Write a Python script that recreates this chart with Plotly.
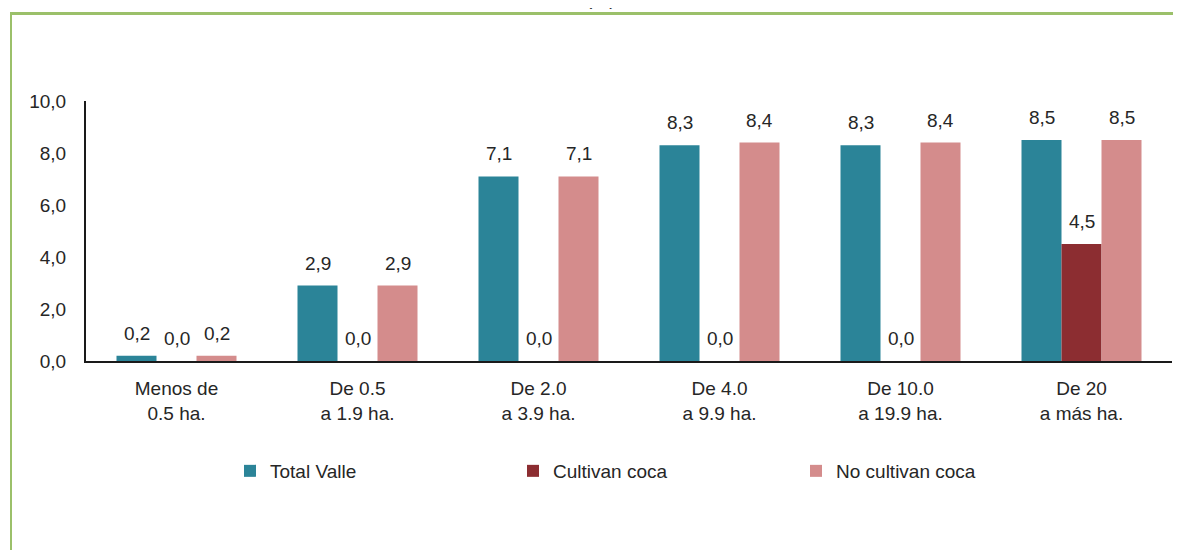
import plotly.graph_objects as go

categories = ["Menos de<br>0.5 ha.", "De 0.5<br>a 1.9 ha.", "De 2.0<br>a 3.9 ha.",
              "De 4.0<br>a 9.9 ha.", "De 10.0<br>a 19.9 ha.", "De 20<br>a más ha."]
total_valle = [0.2, 2.9, 7.1, 8.3, 8.3, 8.5]
cultivan_coca = [0.0, 0.0, 0.0, 0.0, 0.0, 4.5]
no_cultivan_coca = [0.2, 2.9, 7.1, 8.4, 8.4, 8.5]
series_names = ["Total Valle", "Cultivan coca", "No cultivan coca"]
colors = ["#2B8498", "#8C2D31", "#D48C8C"]
y_ticks = [0, 2, 4, 6, 8, 10]

FONT = "Liberation Sans, Arial, sans-serif"
TXT = "#262626"
FS = 19
# the page body has an 8px margin; lay out in target-page pixels minus that offset
OFF = 8
W, H = 1181 - OFF, 550 - OFF
L, R, T, B = 86 - OFF, 9, 101 - OFF, 189
BARGAP = 0.337

fig = go.Figure()
series = [total_valle, cultivan_coca, no_cultivan_coca]
for name, vals, col in zip(series_names, series, colors):
    fig.add_trace(go.Bar(name=name, x=list(range(len(categories))), y=vals,
                         marker=dict(color=col, line=dict(width=0))))

# value labels above each bar
n = len(series)
bw = (1 - BARGAP) / n
annotations = []
for k, vals in enumerate(series):
    off = (k - (n - 1) / 2) * bw
    for i, v in enumerate(vals):
        annotations.append(dict(x=i + off, y=v, xref="x", yref="y",
                                text=f"{v:.1f}".replace(".", ","), showarrow=False,
                                yanchor="bottom", yshift=10,
                                font=dict(family=FONT, size=FS, color=TXT)))

pw = W - L - R
ph = H - T - B
def px_x(x):
    return (x - OFF - L) / pw
def px_y(y):
    return (H - B - (y - OFF)) / ph

annotations.append(dict(x=px_x(601), y=px_y(11), xref="paper", yref="paper", text="(%)",
                        showarrow=False, yanchor="bottom", xanchor="center",
                        font=dict(family=FONT, size=FS, color=TXT)))

shapes = [
    dict(type="line", xref="paper", yref="paper", x0=px_x(10), x1=px_x(1190),
         y0=px_y(13.5), y1=px_y(13.5), line=dict(color="#9BC06A", width=3)),
    dict(type="line", xref="paper", yref="paper", x0=px_x(11), x1=px_x(11),
         y0=px_y(13), y1=px_y(560), line=dict(color="#9BC06A", width=2)),
]

fig.update_layout(
    width=W, height=H,
    margin=dict(l=L, r=R, t=T, b=B, pad=0),
    barmode="group", bargap=BARGAP, bargroupgap=0,
    plot_bgcolor="white", paper_bgcolor="white",
    separators=",.",
    font=dict(family=FONT, size=FS, color=TXT),
    annotations=annotations,
    shapes=shapes,
    showlegend=True,
    legend=dict(orientation="h", x=px_x(230), y=px_y(471), xanchor="left", yanchor="middle",
                entrywidth=238, entrywidthmode="pixels",
                font=dict(family=FONT, size=FS, color=TXT),
                itemsizing="constant", bgcolor="rgba(0,0,0,0)"),
    xaxis=dict(tickmode="array", tickvals=list(range(len(categories))), ticktext=categories,
               range=[-0.5, len(categories) - 0.5],
               showline=True, linecolor="#1a1a1a", linewidth=2, showgrid=False,
               ticks="", zeroline=False, ticklabelstandoff=9,
               tickfont=dict(family=FONT, size=FS, color=TXT)),
    yaxis=dict(range=[0, 10], tickvals=y_ticks, tickformat=".1f",
               showline=True, linecolor="#1a1a1a", linewidth=2, showgrid=False,
               zeroline=False, ticks="", ticklabelstandoff=14,
               tickfont=dict(family=FONT, size=FS, color=TXT)),
)

fig.write_html("out.html")
